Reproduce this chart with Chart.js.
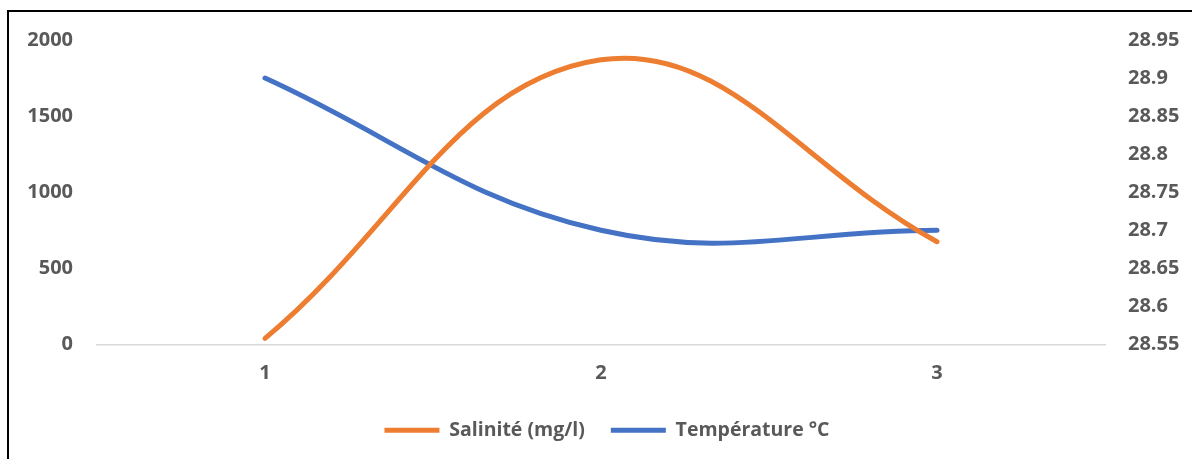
<!DOCTYPE html>
<html>
<head>
<meta charset="utf-8">
<script src="https://cdn.jsdelivr.net/npm/chart.js@4"></script>
<style>
  html, body { margin: 0; padding: 0; background: #fff; }
  #wrap { position: relative; width: 1192px; height: 459px; overflow: hidden; }
  #frame { position: absolute; left: 7px; top: 10px; width: 1300px; height: 600px;
           border-left: 2px solid #000; border-top: 2px solid #000; }
  #myChart { position: absolute; left: 0; top: 0; }
</style>
</head>
<body>
<div id="wrap">
  <div id="frame"></div>
  <canvas id="myChart" width="1192" height="459"></canvas>
</div>
<script>
var categories = ["1", "2", "3"];
var salinite = [40, 1870, 675];
var temperature = [28.9, 28.7, 28.7];
var ticksGauche = [0, 500, 1000, 1500, 2000];
var ticksDroite = [28.55, 28.6, 28.65, 28.7, 28.75, 28.8, 28.85, 28.9, 28.95];

var GRIS = "#595959";
var police = {family: "'Open Sans', sans-serif", size: 20, weight: "bold"};

var ctx = document.getElementById("myChart").getContext('2d');
var myChart = new Chart(ctx, {
    type: 'line',
    data: {
        labels: categories,
        datasets: [
            {
                label: 'Salinité (mg/l)',
                data: salinite,
                yAxisID: 'y',
                borderColor: '#ED7D31',
                backgroundColor: '#ED7D31',
                borderWidth: 5,
                borderCapStyle: 'round',
                pointRadius: 0,
                tension: 0.4,
                fill: false
            },
            {
                label: 'Température °C',
                data: temperature,
                yAxisID: 'y1',
                borderColor: '#4472C4',
                backgroundColor: '#4472C4',
                borderWidth: 5,
                borderCapStyle: 'round',
                pointRadius: 0,
                tension: 0.4,
                fill: false
            }
        ]
    },
    options: {
        responsive: false,
        animation: false,
        // padding gauche pour recentrer la légende comme dans Excel
        layout: {padding: {top: 40, bottom: 9, left: 22, right: 0}},
        plugins: {
            tooltip: {enabled: false},
            legend: {
                position: 'bottom',
                labels: {
                    usePointStyle: true,
                    pointStyle: 'line',
                    pointStyleWidth: 55,
                    color: GRIS,
                    padding: 26,
                    font: {family: "'Open Sans', sans-serif", size: 19.5, weight: "bold"}
                }
            }
        },
        scales: {
            x: {
                offset: true,
                grid: {display: false, drawTicks: false},
                border: {display: true, color: '#d9d9d9', width: 1.5},
                ticks: {color: GRIS, font: police, padding: 17},
                afterFit: function (s) { s.height = 50; }
            },
            y: {
                position: 'left',
                min: 0,
                max: 2000,
                grid: {display: false, drawTicks: false},
                border: {display: false},
                afterBuildTicks: function (s) { s.ticks = ticksGauche.map(function (v) { return {value: v}; }); },
                ticks: {
                    color: GRIS, font: police, padding: 24,
                    callback: function (v) { return String(v); }
                },
                afterFit: function (s) { s.width = 75; }
            },
            y1: {
                position: 'right',
                min: 28.55,
                max: 28.95,
                grid: {display: false, drawTicks: false},
                border: {display: false},
                afterBuildTicks: function (s) { s.ticks = ticksDroite.map(function (v) { return {value: v}; }); },
                ticks: {
                    color: GRIS, font: police, padding: 23,
                    callback: function (v) { return String(+v.toFixed(2)); }
                },
                afterFit: function (s) { s.width = 87; }
            }
        }
    }
});
</script>
</body>
</html>
